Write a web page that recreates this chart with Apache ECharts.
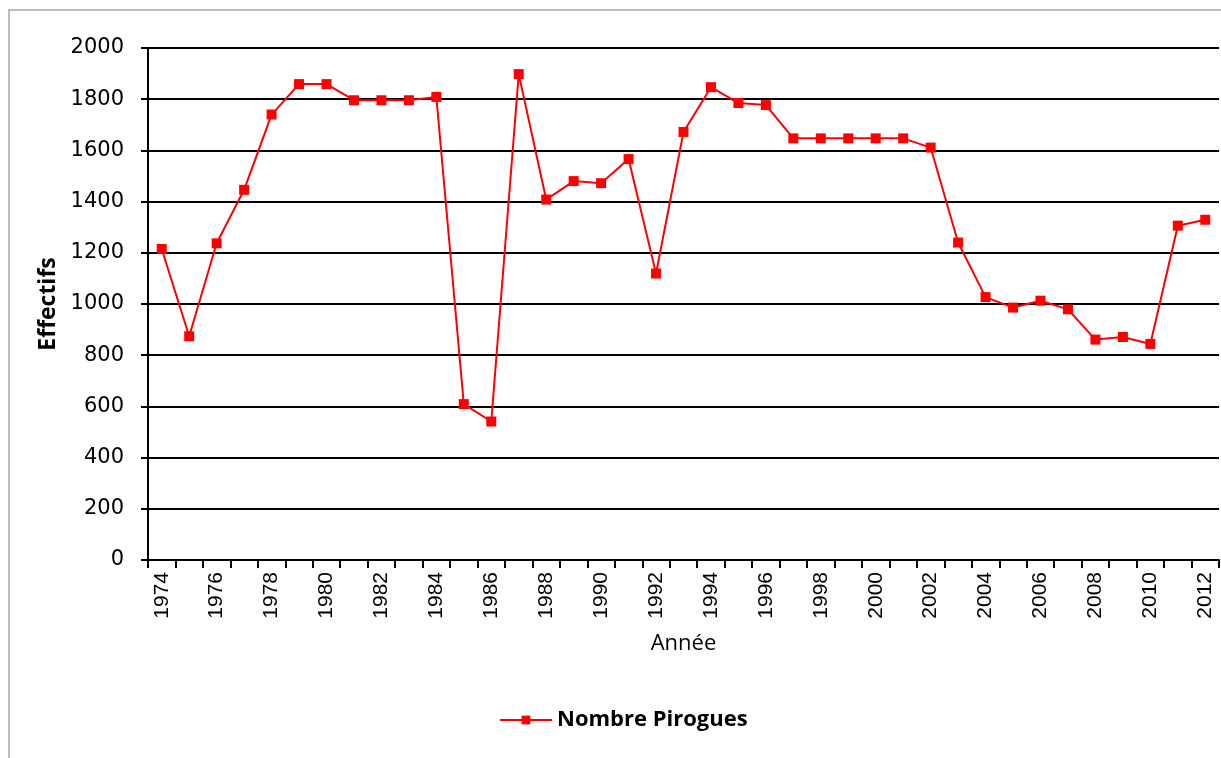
<!DOCTYPE html>
<html>
<head>
<meta charset="utf-8">
<script src="https://cdn.jsdelivr.net/npm/echarts@6/dist/echarts.min.js"></script>
<style>
  html, body { margin: 0; padding: 0; background: #fff; }
  #main { width: 1221px; height: 758px; }
</style>
</head>
<body>
<div id="main"></div>
<script>
// années 1974 - 2012
var years = ["1974","1975","1976","1977","1978","1979","1980","1981","1982","1983",
  "1984","1985","1986","1987","1988","1989","1990","1991","1992","1993",
  "1994","1995","1996","1997","1998","1999","2000","2001","2002","2003",
  "2004","2005","2006","2007","2008","2009","2010","2011","2012"];
var pirogues = [1215, 874, 1237, 1446, 1740, 1859, 1859, 1796, 1796, 1796,
  1809, 609, 541, 1898, 1408, 1480, 1472, 1566, 1119, 1672,
  1847, 1785, 1777, 1647, 1647, 1647, 1647, 1647, 1611, 1240,
  1027, 986, 1013, 979, 861, 871, 844, 1306, 1329];
var yTicks = { min: 0, max: 2000, interval: 200 };

var chart = echarts.init(document.getElementById("main"));
var option = {
  backgroundColor: "#fff",
  animation: false,
  graphic: [{
    type: "rect",
    shape: { x: 9, y: 10, width: 1240, height: 780 },
    style: { fill: "none", stroke: "#a6a6a6", lineWidth: 1.5 },
    silent: true
  }],
  grid: { left: 148, right: 2, top: 48, bottom: 198, containLabel: false },
  legend: {
    top: 704,
    left: 494,
    itemWidth: 52,
    itemHeight: 11,
    itemGap: 5,
    textStyle: { fontFamily: "Open Sans", fontWeight: "bold", fontSize: 22, color: "#000" },
    data: ["Nombre Pirogues"]
  },
  xAxis: {
    type: "category",
    data: years,
    boundaryGap: true,
    name: "Année",
    nameLocation: "middle",
    nameGap: 73,
    nameTextStyle: { fontFamily: "Open Sans", fontSize: 22, color: "#000" },
    axisLine: { lineStyle: { color: "#000", width: 2 } },
    axisTick: { show: true, interval: 0, length: 8, lineStyle: { color: "#000", width: 2 } },
    axisLabel: {
      interval: 1,
      rotate: 90,
      margin: 12,
      fontFamily: "Liberation Sans",
      fontSize: 21,
      color: "#000"
    },
    splitLine: { show: false }
  },
  yAxis: {
    type: "value",
    min: yTicks.min,
    max: yTicks.max,
    interval: yTicks.interval,
    name: "Effectifs",
    nameLocation: "middle",
    nameGap: 88,
    nameTextStyle: { fontFamily: "Open Sans", fontWeight: "bold", fontSize: 23, color: "#000" },
    axisLine: { show: true, lineStyle: { color: "#000", width: 2 } },
    axisTick: { show: true, length: 7, lineStyle: { color: "#000", width: 2 } },
    axisLabel: {
      margin: 24,
      fontFamily: "DejaVu Sans",
      fontSize: 21,
      color: "#000",
      formatter: function (v) { return String(v); }
    },
    splitLine: { show: true, lineStyle: { color: "#000", width: 2 } }
  },
  series: [{
    name: "Nombre Pirogues",
    type: "line",
    data: pirogues,
    symbol: "rect",
    symbolSize: 10,
    lineStyle: { color: "#ff0000", width: 2 },
    itemStyle: { color: "#ff0000" }
  }]
};
chart.setOption(option);
</script>
</body>
</html>
